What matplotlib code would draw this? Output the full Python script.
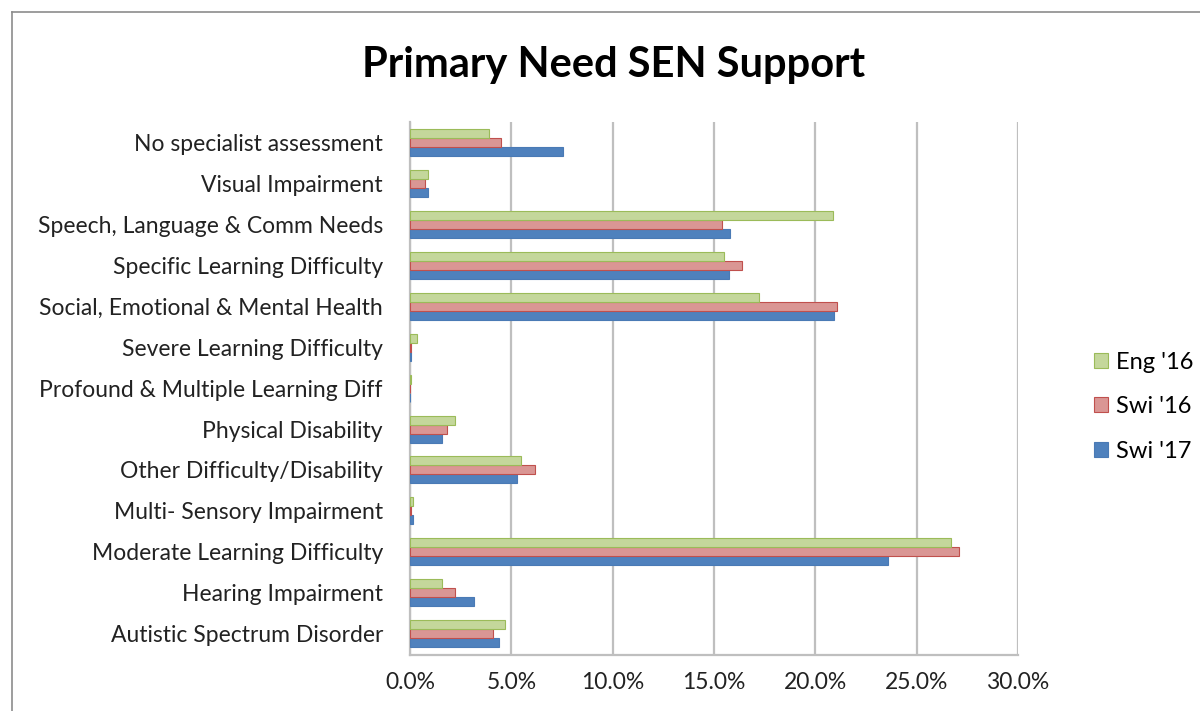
import numpy as np
import matplotlib.pyplot as plt
from matplotlib.lines import Line2D
from matplotlib.ticker import FuncFormatter

plt.rcParams['font.family'] = ['Lato', 'DejaVu Sans']

# categories listed bottom to top (as drawn by the original chart)
categories = [
    'Autistic Spectrum Disorder',
    'Hearing Impairment',
    'Moderate Learning Difficulty',
    'Multi- Sensory Impairment',
    'Other Difficulty/Disability',
    'Physical Disability',
    'Profound & Multiple Learning Diff',
    'Severe Learning Difficulty',
    'Social, Emotional & Mental Health',
    'Specific Learning Difficulty',
    'Speech, Language & Comm Needs',
    'Visual Impairment',
    'No specialist assessment',
]

# percent values, same order as categories
swi17 = [4.4, 3.15, 23.6, 0.15, 5.3, 1.6, 0.0, 0.05, 20.9, 15.75, 15.8, 0.9, 7.55]
swi16 = [4.1, 2.2, 27.1, 0.05, 6.15, 1.8, 0.0, 0.05, 21.05, 16.4, 15.4, 0.75, 4.5]
eng16 = [4.7, 1.6, 26.7, 0.15, 5.45, 2.2, 0.05, 0.35, 17.2, 15.5, 20.85, 0.9, 3.9]

xticks = [0, 5, 10, 15, 20, 25, 30]

fig = plt.figure(figsize=(12, 7.11), dpi=100)
ax = fig.add_axes([0.3417, 0.0788, 0.5067, 0.7496])

y = np.arange(len(categories))
h = 0.22
ax.barh(y - h, swi17, height=h, color='#4f81bd', edgecolor='#4a7ab5',
        linewidth=0.8, label="Swi '17", zorder=3)
ax.barh(y, swi16, height=h, color='#da9694', edgecolor='#c0504d',
        linewidth=0.8, label="Swi '16", zorder=3)
ax.barh(y + h, eng16, height=h, color='#c4d79b', edgecolor='#9bbb59',
        linewidth=0.8, label="Eng '16", zorder=3)

ax.set_xlim(0, 30)
ax.set_ylim(-0.52, 12.5)
ax.set_xticks(xticks)
ax.xaxis.set_major_formatter(FuncFormatter(lambda v, p: f'{v:.1f}%'))
ax.set_yticks(y)
ax.set_yticklabels(categories)
ax.tick_params(axis='both', length=0, labelsize=16.5, colors='#222222')
ax.tick_params(axis='x', pad=12)
ax.tick_params(axis='y', pad=19.5)
ax.xaxis.grid(True, color='#bfbfbf', linewidth=1.6, zorder=0)
for s in ['top', 'right']:
    ax.spines[s].set_visible(False)
for s in ['left', 'bottom']:
    ax.spines[s].set_color('#bfbfbf')
    ax.spines[s].set_linewidth(1.6)

handles, labels = ax.get_legend_handles_labels()
fig.legend(handles[::-1], labels[::-1], loc='center left',
           bbox_to_anchor=(0.894, 0.428), frameon=False, fontsize=17,
           handlelength=0.6, handleheight=0.6, labelspacing=1.0,
           handletextpad=0.35)

fig.text(0.511, 0.908, 'Primary Need SEN Support', ha='center', va='center',
         fontsize=30, fontweight='bold')

# outer chart border (top and left edges visible)
fig.add_artist(Line2D([12 / 1200, 1], [1 - 12 / 711, 1 - 12 / 711],
                      color='#8c8c8c', linewidth=1.2))
fig.add_artist(Line2D([12 / 1200, 12 / 1200], [0, 1 - 12 / 711],
                      color='#8c8c8c', linewidth=1.2))

fig.savefig('out.png', dpi=100)
